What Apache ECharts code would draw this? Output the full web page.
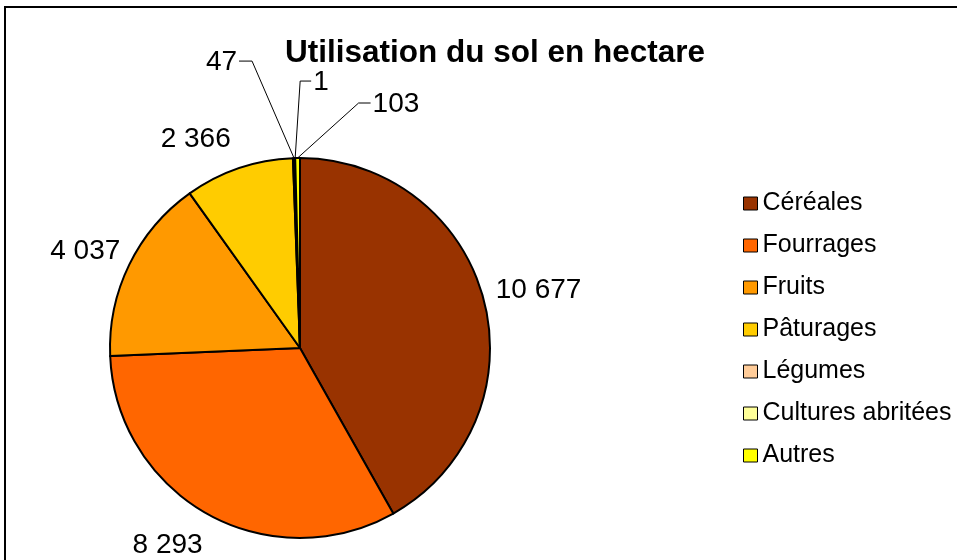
<!DOCTYPE html>
<html>
<head>
<meta charset="utf-8">
<script src="https://cdn.jsdelivr.net/npm/echarts@6/dist/echarts.min.js"></script>
<style>
  html, body { margin: 0; padding: 0; background: #fff; }
  #chart { width: 957px; height: 560px; }
</style>
</head>
<body>
<div id="chart"></div>
<script>
// data
const categories = ['Céréales', 'Fourrages', 'Fruits', 'Pâturages', 'Légumes', 'Cultures abritées', 'Autres'];
const values = [10677, 8293, 4037, 2366, 47, 1, 103];
const colors = ['#993300', '#FF6600', '#FF9900', '#FFCC00', '#FFCC99', '#FFFF99', '#FFFF00'];

const FONT = 'Arial, "Liberation Sans", sans-serif';
const CENTER = [300, 348];
const RADIUS = 190;

// where each value label sits, relative to the slice's outer edge point
const labelPlacement = [
  { dx: 12, dy: -9, align: 'left' },
  { dx: -5, dy: 31, align: 'right' },
  { dx: -9, dy: -13, align: 'right' },
  { dx: -8, dy: -29, align: 'right' },
  { elbow: [-42, -97], run: -13, align: 'right' },
  { elbow: [5, -77], run: 11, align: 'left' },
  { elbow: [61, -55], run: 12, align: 'left' }
];

const total = values.reduce((a, b) => a + b, 0);

// outer edge point of slice i at its middle angle (clockwise from 12 o'clock)
function edgePoint(i) {
  let before = 0;
  for (let k = 0; k < i; k++) before += values[k];
  const a = (before + values[i] / 2) / total * Math.PI * 2;
  return [CENTER[0] + RADIUS * Math.sin(a), CENTER[1] - RADIUS * Math.cos(a)];
}

function fmt(v) {
  return String(v).replace(/\B(?=(\d{3})+(?!\d))/g, ' ');
}

const chart = echarts.init(document.getElementById('chart'));

chart.setOption({
  animation: false,
  color: colors,
  textStyle: { fontFamily: FONT },
  graphic: [{
    type: 'rect',
    shape: { x: 5, y: 7, width: 1000, height: 600 },
    style: { fill: 'none', stroke: '#000', lineWidth: 2 }
  }],
  title: {
    text: 'Utilisation du sol en hectare',
    left: 490,
    top: 32,
    textAlign: 'center',
    textStyle: { fontFamily: FONT, fontSize: 31.5, fontWeight: 'bold', color: '#000' }
  },
  legend: {
    orient: 'vertical',
    left: 738,
    top: 186,
    itemWidth: 14,
    itemHeight: 13,
    itemGap: 17,
    icon: 'rect',
    selectedMode: false,
    itemStyle: { borderColor: '#000', borderWidth: 1 },
    textStyle: { fontFamily: FONT, fontSize: 25, lineHeight: 25, color: '#000' },
    data: categories
  },
  series: [{
    type: 'pie',
    center: CENTER,
    radius: RADIUS,
    startAngle: 90,
    clockwise: true,
    avoidLabelOverlap: false,
    itemStyle: { borderColor: '#000', borderWidth: 2 },
    emphasis: { disabled: true },
    label: {
      show: true,
      position: 'outside',
      fontFamily: FONT,
      fontSize: 28,
      color: '#000',
      formatter: p => fmt(p.value)
    },
    labelLine: { show: true, length: 10, length2: 10, lineStyle: { color: '#000', width: 1 } },
    labelLayout: function (params) {
      const i = params.dataIndex;
      const pl = labelPlacement[i];
      const e = edgePoint(i);
      if (!pl.elbow) {
        return { x: e[0] + pl.dx, y: e[1] + pl.dy, align: pl.align, verticalAlign: 'middle' };
      }
      const elbow = [e[0] + pl.elbow[0], e[1] + pl.elbow[1]];
      const end = [elbow[0] + pl.run, elbow[1]];
      return {
        x: end[0] + (pl.run < 0 ? -2 : 2),
        y: end[1] + 1,
        align: pl.align,
        verticalAlign: 'middle',
        labelLinePoints: [e, elbow, end]
      };
    },
    data: categories.map((name, i) => ({
      name: name,
      value: values[i],
      labelLine: { show: values[i] < 500 }
    }))
  }]
});
</script>
</body>
</html>
